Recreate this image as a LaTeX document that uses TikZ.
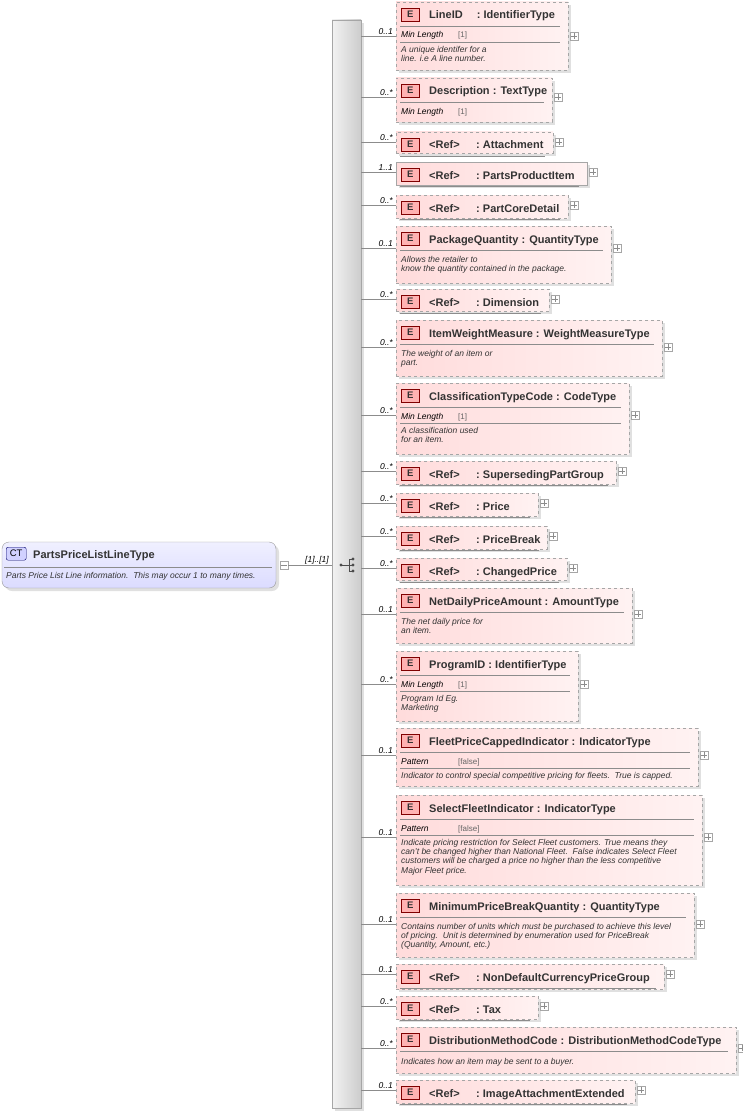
\documentclass[tikz,border=0pt]{standalone}
\usepackage{fontspec}
\setmainfont{Liberation Sans}
\usetikzlibrary{calc}
\tikzset{
  ebox/.style={draw=black!35,line width=0.8pt,dashed,left color=red!14,right color=red!5,inner sep=0,outer sep=0},
  solidbox/.style={solid},
  shadow/.style={fill=black!12},
  conn/.style={draw=black!45,line width=0.6pt},
  mult/.style={font=\fontsize{8.5}{9}\selectfont\itshape,inner sep=1pt,anchor=south east},
  plus/.style={draw=black!35,fill=white,minimum size=8pt,inner sep=0,line width=0.5pt},
  ebadge/.style={draw=red!50!black,fill=red!30,minimum width=18pt,minimum height=13pt,inner sep=0,font=\fontsize{9.5}{10}\selectfont\bfseries,text=black!80},
  ttl/.style={font=\fontsize{11}{12}\selectfont\bfseries,text=black!80,inner sep=0,anchor=base west},
  sep/.style={draw=black!45,line width=0.5pt},
  fac/.style={font=\fontsize{8.5}{9}\selectfont\itshape,inner sep=0,anchor=base west},
  facv/.style={font=\fontsize{8}{9}\selectfont,text=black!60,inner sep=0,anchor=base west},
  doc/.style={font=\fontsize{8.5}{9.3}\selectfont\itshape,text=black!80,inner sep=0,anchor=north west,align=left},
}
% #1 name, #2 top, #3 bottom, #4 right, #5 connector y, #6 multiplicity, #7 extra box style
\newcommand\EL[7]{%
  \fill[shadow] (399,#2+3) rectangle (#4+3,#3+3);
  \node[ebox,#7,anchor=north west,minimum width={(#4-396)*1pt},minimum height={(#3-#2)*1pt}] (#1) at (396,#2) {};
  \coordinate (#1c) at (396,#5);
  \draw[conn] (bar.east |- #1c) -- (#1c);
  \node[mult] at ($(#1c)+(-2,0)$) {#6};
  \node[plus] (#1p) at (#4+6,#5) {};
  \draw[black!45,line width=0.5pt] ($(#1p.west)+(1.5,0)$) -- ($(#1p.east)+(-1.5,0)$)
    ($(#1p.north)+(0,1.5)$) -- ($(#1p.south)+(0,-1.5)$);
  \node[ebadge,anchor=north west] (#1b) at (401,#2+6) {E};
  \draw[sep] (400,#2+24) -- (#4-8,#2+24);
}
\newcommand\TT[2]{\node[ttl] at (429,#1+17) {#2};}
\newcommand\RF[2]{\node[ttl] at (429,#1+17) {<Ref>}; \node[ttl] at (476,#1+17) {:\ #2};}
\newcommand\FC[4]{% top, right, facet, value
  \node[fac] at (401,#1+36) {#3}; \node[facv] at (458,#1+36) {#4};
  \draw[sep] (400,#1+40) -- (#2-8,#1+40);}
\newcommand\DC[2]{\node[doc] at (401,#1+2) {#2};}
\begin{document}
\begin{tikzpicture}[x=1pt,y=-1pt]
\useasboundingbox (0,0) rectangle (742,1113);
% sequence bar
\fill[shadow] (335,23) rectangle (364,1111);
\node[draw=black!35,left color=black!5,right color=black!20,minimum width=29pt,minimum height=1088pt,inner sep=0,outer sep=0,anchor=north west] (bar) at (332,20) {};
% sequence symbol
\fill[black!70] (341,565) circle (1.6);
\draw[black!70,line width=0.8pt] (341,565) -- (349,565) (349,559) -- (349,571) (349,559) -- (353,559) (349,571) -- (353,571) (349,565) -- (353,565);
\foreach \yy in {559,565,571} \fill[black!70] (353,\yy) circle (1.6);
% root type
\fill[shadow,rounded corners=7pt] (5,545) rectangle (279,591);
\node[draw=black!40,rounded corners=7pt,top color=blue!6,bottom color=blue!14,minimum width=274pt,minimum height=46pt,inner sep=0,outer sep=0,anchor=north west] (root) at (2,542) {};
\node[draw=blue!40!black,fill=blue!18,rounded corners=2pt,minimum width=20pt,minimum height=13pt,inner sep=0,font=\fontsize{9.5}{10}\selectfont,anchor=north west] (ct) at (6,547) {CT};
\node[ttl] at (33,558) {PartsPriceListLineType};
\draw[sep] (4,567) -- (272,567);
\node[doc] at (6,572) {Parts Price List Line information.\ \ This may occur 1 to many times.};
\node[plus] (rootm) at (284,565) {};
\draw[black!45,line width=0.5pt] ($(rootm.west)+(1.5,0)$) -- ($(rootm.east)+(-1.5,0)$);
\draw[conn] (rootm.east) -- (bar.west |- rootm.east);
\node[mult] at (330,565) {[1]..[1]};
% elements
\EL{e1}{2}{70}{568}{36}{0..1}{} \TT{2}{LineID\quad\ : IdentifierType}
\FC{2}{568}{Min Length}{[1]} \DC{44}{A unique identifer for a\\line. i.e A line number.}
\EL{e2}{78}{122}{552}{97}{0..*}{} \TT{78}{Description : TextType} \node[fac] at (401,114) {Min Length}; \node[facv] at (458,114) {[1]};
\EL{e3}{132}{153}{553}{142}{0..*}{} \RF{132}{Attachment}
\EL{e4}{162}{185}{587}{172}{1..1}{solidbox} \RF{162}{PartsProductItem}
\EL{e5}{195}{218}{568}{205}{0..*}{} \RF{195}{PartCoreDetail}
\EL{e6}{226}{283}{611}{248}{0..1}{} \TT{226}{PackageQuantity : QuantityType} \DC{254}{Allows the retailer to\\know the quantity contained in the package.}
\EL{e7}{289}{311}{549}{299}{0..*}{} \RF{289}{Dimension}
\EL{e8}{320}{376}{662}{347}{0..*}{} \TT{320}{ItemWeightMeasure : WeightMeasureType} \DC{348}{The weight of an item or\\part.}
\EL{e9}{383}{454}{629}{415}{0..*}{} \TT{383}{ClassificationTypeCode : CodeType}
\FC{383}{629}{Min Length}{[1]} \DC{425}{A classification used\\for an item.}
\EL{e10}{461}{484}{616}{471}{0..*}{} \RF{461}{SupersedingPartGroup}
\EL{e11}{493}{516}{538}{503}{0..*}{} \RF{493}{Price}
\EL{e12}{526}{549}{547}{536}{0..*}{} \RF{526}{PriceBreak}
\EL{e13}{558}{580}{567}{568}{0..*}{} \RF{558}{ChangedPrice}
\EL{e14}{588}{643}{632}{614}{0..1}{} \TT{588}{NetDailyPriceAmount : AmountType} \DC{616}{The net daily price for\\an item.}
\EL{e15}{651}{721}{578}{684}{0..*}{} \TT{651}{ProgramID : IdentifierType}
\FC{651}{578}{Min Length}{[1]} \DC{693}{Program Id Eg.\\Marketing}
\EL{e16}{728}{786}{698}{755}{0..1}{} \TT{728}{FleetPriceCappedIndicator : IndicatorType}
\FC{728}{698}{Pattern}{[false]} \DC{770}{Indicator to control special competitive pricing for fleets.\ \ True is capped.}
\EL{e17}{795}{885}{702}{837}{0..1}{} \TT{795}{SelectFleetIndicator : IndicatorType}
\FC{795}{702}{Pattern}{[false]} \DC{837}{Indicate pricing restriction for Select Fleet customers. True means they\\can't be changed higher than National Fleet.\ \ False indicates Select Fleet\\customers will be charged a price no higher than the less competitive\\Major Fleet price.}
\EL{e18}{893}{957}{694}{924}{0..1}{} \TT{893}{MinimumPriceBreakQuantity : QuantityType} \DC{921}{Contains number of units which must be purchased to achieve this level\\of pricing.\ \ Unit is determined by enumeration used for PriceBreak\\(Quantity, Amount, etc.)}
\EL{e19}{964}{989}{664}{974}{0..1}{} \RF{964}{NonDefaultCurrencyPriceGroup}
\EL{e20}{996}{1019}{538}{1006}{0..*}{} \RF{996}{Tax}
\EL{e21}{1027}{1073}{736}{1048}{0..*}{} \TT{1027}{DistributionMethodCode : DistributionMethodCodeType} \DC{1056}{Indicates how an item may be sent to a buyer.}
\EL{e22}{1080}{1103}{635}{1090}{0..1}{} \RF{1080}{ImageAttachmentExtended}
\end{tikzpicture}
\end{document}
